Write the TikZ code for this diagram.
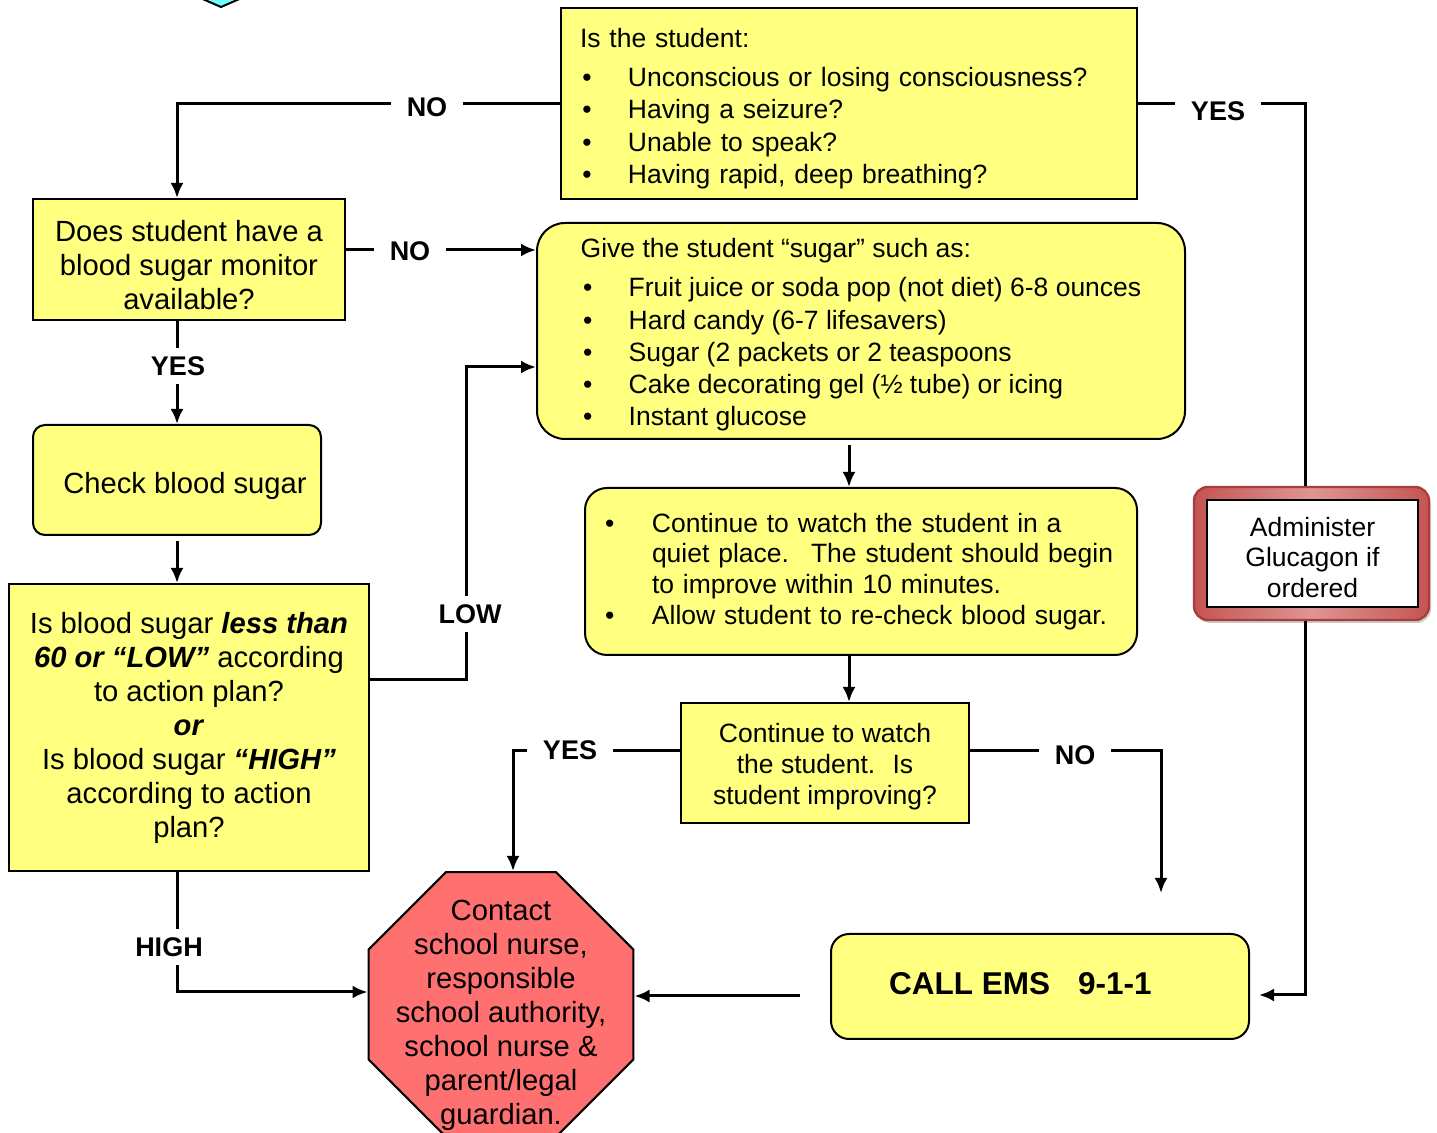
\documentclass[tikz,border=0pt]{standalone}
\usepackage{fontspec}
\setmainfont{Liberation Sans}
\usetikzlibrary{shapes.geometric,arrows.meta,shadows}

\definecolor{boxyellow}{RGB}{255,255,128}
\definecolor{stopred}{RGB}{255,112,112}
\definecolor{diamcyan}{RGB}{110,255,255}
\definecolor{glucedge}{RGB}{196,84,82}
\definecolor{glucmid}{RGB}{222,150,148}
\definecolor{glucborder}{RGB}{170,60,60}

\newcommand\txtnorm{\fontsize{13.25}{16.15}\selectfont}
\newcommand\txtwatch{\fontsize{13.25}{15.4}\selectfont}
\newcommand\txtbig{\fontsize{14.6}{17}\selectfont}
\newcommand\bul{\makebox[24pt][l]{\hspace{1.2pt}\textbullet}}
\newcommand\bulw{\makebox[23.5pt][l]{\textbullet}}
\newcommand\toprule[1]{\rule{0pt}{#1}}

\tikzset{
  qbox/.style={draw, line width=1pt, fill=boxyellow, inner sep=0pt},
  rqbox/.style={qbox, rounded corners=6pt},
  stopsign/.style={draw, line width=1pt, fill=stopred, regular polygon,
    regular polygon sides=8, minimum size=143.4pt, inner sep=0pt},
  glucouter/.style={draw=glucborder, line width=1.2pt, rounded corners=7pt,
    left color=glucedge, right color=glucedge, middle color=glucmid,
    minimum width=117.5pt, minimum height=66.5pt,
    drop shadow={shadow xshift=1pt, shadow yshift=-1.5pt, opacity=0.4}},
  conn/.style={line width=1.5pt},
  lbl/.style={fill=white, inner xsep=8pt, inner ysep=4pt,
    font=\fontsize{13.5}{16}\selectfont\bfseries},
  >={Latex[length=7.5pt,width=6.5pt]}
}

\begin{document}
\begin{tikzpicture}[x=0.5pt,y=-0.5pt]
  \useasboundingbox (0,0) rectangle (1437,1133);
  \fill[white] (0,0) rectangle (1437,1133);
  % diamond cut off by the top edge
  \draw[fill=diamcyan, line width=1pt] (221,7) -- (175,-13) -- (221,-33) -- (267,-13) -- cycle;

  % boxes
  \node[qbox, minimum width=288pt, minimum height=95.5pt, inner xsep=9.5pt,
    text width=269pt, align=left, font=\txtnorm] (question) at (849,103.5)
    {\toprule{14.5pt}Is the student:\\[3.5pt]
     \bul Unconscious or losing consciousness?\\
     \bul Having a seizure?\\
     \bul Unable to speak?\\
     \bul Having rapid, deep breathing?};
  \node[qbox, minimum width=156pt, minimum height=60.5pt, align=center,
    font=\txtbig] (monitor) at (189,259.5)
    {\toprule{16.5pt}Does student have a\\ blood sugar monitor\\ available?};
  \node[rqbox, minimum width=144pt, minimum height=55pt, font=\txtbig]
    (check) at (177,480) {\toprule{16.5pt}\hspace*{8pt}Check blood sugar};
  \node[qbox, minimum width=180pt, minimum height=143.5pt, align=center,
    font=\txtbig] (bigq) at (189,727.5)
    {Is blood sugar \textbf{\textit{less than}}\\
     \textbf{\textit{60 or “LOW”}} according\\
     to action plan?\\
     \textbf{\textit{or}}\\
     Is blood sugar \textbf{\textit{“HIGH”}}\\
     according to action\\
     plan?};
  \node[rqbox, rounded corners=14pt, minimum width=324pt, minimum height=108pt,
    align=left, font=\txtnorm] (sugar) at (861,331)
    {\toprule{13.5pt}Give the student “sugar” such as:\\[3.5pt]
     \bul Fruit juice or soda pop (not diet) 6-8 ounces\\
     \bul Hard candy (6-7 lifesavers)\\
     \bul Sugar (2 packets or 2 teaspoons\\
     \bul Cake decorating gel (½ tube) or icing\\
     \bul Instant glucose};
  \node[rqbox, rounded corners=11pt, minimum width=276pt, minimum height=83.5pt,
    inner xsep=10pt, text width=256pt, align=left, font=\txtwatch]
    (watchbul) at (861,571.5)
    {\bulw Continue to watch the student in a\\
     \hspace*{23.5pt}quiet place.~ The student should begin\\
     \hspace*{23.5pt}to improve within 10 minutes.\\
     \bulw Allow student to re-check blood sugar.};
  \node[qbox, minimum width=144pt, minimum height=60pt, align=center,
    font=\txtwatch] (improve) at (825,763)
    {\toprule{13.5pt}Continue to watch\\ the student.~ Is\\ student improving?};
  \node[glucouter] (glucframe) at (1311.5,553.5) {};
  \node[draw, line width=0.8pt, fill=white, minimum width=105.5pt,
    minimum height=53.5pt, align=center,
    font=\fontsize{13.25}{15.25}\selectfont] (gluc) at (1312.5,553.5)
    {\toprule{13.5pt}Administer\\ Glucagon if\\ ordered};
  \node[stopsign] (stop) at (501,1004.5) {};
  \node[align=center, font=\txtbig] (stoptext) at (501,1012)
    {\toprule{13.5pt}Contact\\ school nurse,\\ responsible\\ school authority,\\
     school nurse \&\\ parent/legal\\ guardian.};
  \node[rqbox, rounded corners=9pt, minimum width=209pt, minimum height=52.5pt,
    font=\fontsize{15.75}{19}\selectfont\bfseries] (ems) at (1040,986.5)
    {\rule[-3pt]{0pt}{3pt}CALL EMS\hspace{14pt}9-1-1\hspace*{19.5pt}};

  % connectors
  \coordinate (monout) at ([yshift=4.75pt]monitor.east);
  \coordinate (emsin) at ([yshift=-4.75pt]ems.west);
  \coordinate (noend) at (1161,893);
  \draw[conn,->] (question.west) -| (check.north |- monitor.north);
  \draw[conn] (question.east) -| ([xshift=-3.25pt]glucframe.north);
  \draw[conn,->] ([xshift=-3.25pt]glucframe.south)
    |- ([xshift=4.5pt,yshift=-4.25pt]ems.east);
  \draw[conn,->] (monout) -- (monout -| sugar.west);
  \draw[conn,->] (monitor.south -| check.north) -- (check.north);
  \draw[conn,->,shorten <=2.5pt] (check.south) -- (check.south |- bigq.north);
  \draw[conn,->] ([yshift=23.75pt]bigq.east) -- ++(96,0)
    |- ([yshift=-18pt]sugar.west);
  \draw[conn,->] (check.south |- bigq.south) |- ([yshift=6.25pt]stop.west);
  \draw[conn,->,shorten <=2.5pt] (question.south |- sugar.south)
    -- (question.south |- watchbul.north);
  \draw[conn,->] (question.south |- watchbul.south)
    -- (question.south |- improve.north);
  \draw[conn,->] ([yshift=6pt]improve.west) -| ([xshift=6pt]stop.north);
  \draw[conn,->] ([yshift=6pt]improve.east) -| (noend);
  \draw[conn,->,shorten <=15pt] (emsin) -- (emsin -| stop.east);

  % branch labels
  \node[lbl] (lblnotop) at (427,107) {NO};
  \node[lbl] (lblyestop) at (1218,111) {YES};
  \node[lbl] (lblnomon) at (410,251) {NO};
  \node[lbl] (lblyesmon) at (178,366) {YES};
  \node[lbl] (lbllow) at (470,614) {LOW};
  \node[lbl] (lblhigh) at (169,947) {HIGH};
  \node[lbl] (lblyesimp) at (570,750) {YES};
  \node[lbl] (lblnoimp) at (1075,755) {NO};
\end{tikzpicture}
\end{document}
